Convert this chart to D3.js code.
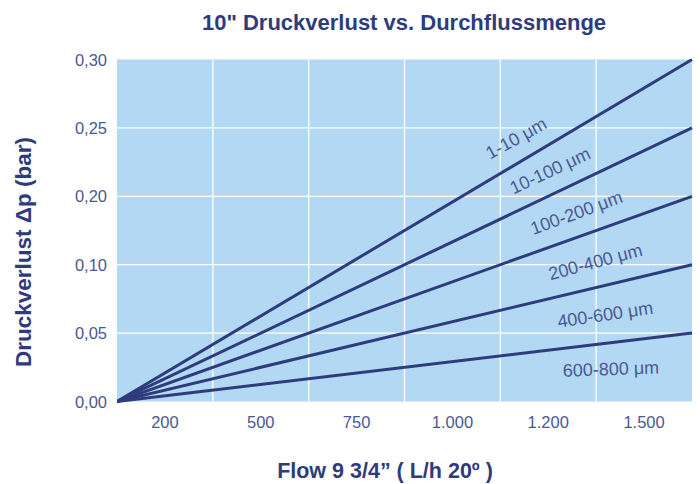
<!DOCTYPE html>
<html>
<head>
<meta charset="utf-8">
<script src="https://cdn.jsdelivr.net/npm/d3@7"></script>
<style>
  body { margin: 0; background: #fff; }
  svg { display: block; font-family: "Liberation Sans", Arial, sans-serif; }
</style>
</head>
<body>
<div id="chart"></div>
<script>
// data
var xLabels = ["200", "500", "750", "1.000", "1.200", "1.500"];
var yLabels = ["0,00", "0,05", "0,10", "0,20", "0,25", "0,30"];
var lineEnds = ["0,30", "0,25", "0,20", "0,10", "0,05"];   // value reached at right edge
var lineLabels = ["1-10 μm", "10-100 μm", "100-200 μm", "200-400 μm", "400-600 μm", "600-800 μm"];

var W = 700, H = 484;
var M = { left: 117, right: 8, top: 59.5, bottom: 82.5 };

var svg = d3.select("#chart").append("svg")
  .attr("width", W).attr("height", H);

var x = d3.scaleBand().domain(xLabels).range([M.left, W - M.right]);
var xf = d3.scaleLinear().domain([0, 1]).range(x.range());   // fraction along flow axis
var y = d3.scalePoint().domain(yLabels).range([H - M.bottom, M.top]);

var TEXT = "#4a5893", DARK = "#2e3b7c";

// plot background
svg.append("rect")
  .attr("x", x.range()[0]).attr("y", M.top)
  .attr("width", x.range()[1] - x.range()[0])
  .attr("height", y("0,00") - M.top)
  .attr("fill", "#b3d8f3");

// grid
svg.append("g").selectAll("line.v")
  .data(xLabels.slice(1))
  .enter().append("line")
  .attr("x1", function(d) { return x(d); }).attr("x2", function(d) { return x(d); })
  .attr("y1", M.top).attr("y2", y("0,00"))
  .attr("stroke", "#fff").attr("stroke-width", 1.3);

svg.append("g").selectAll("line.h")
  .data(yLabels.slice(1, -1))
  .enter().append("line")
  .attr("x1", x.range()[0]).attr("x2", x.range()[1])
  .attr("y1", function(d) { return y(d); }).attr("y2", function(d) { return y(d); })
  .attr("stroke", "#fff").attr("stroke-width", 1.3);

// tick labels
svg.append("g").selectAll("text")
  .data(xLabels)
  .enter().append("text")
  .attr("x", function(d) { return x(d) + x.bandwidth() / 2; })
  .attr("y", 428)
  .attr("text-anchor", "middle")
  .attr("font-size", 16.5)
  .attr("fill", TEXT)
  .text(function(d) { return d; });

svg.append("g").selectAll("text")
  .data(yLabels)
  .enter().append("text")
  .attr("x", 107)
  .attr("y", function(d) { return y(d) + 6; })
  .attr("text-anchor", "end")
  .attr("font-size", 16.5)
  .attr("fill", TEXT)
  .text(function(d) { return d; });

// lines
var clip = svg.append("clipPath").attr("id", "plot")
  .append("rect")
  .attr("x", x.range()[0]).attr("y", M.top - 1)
  .attr("width", x.range()[1] - x.range()[0] + 1)
  .attr("height", y("0,00") - M.top + 3);

var line = d3.line()
  .x(function(p) { return xf(p[0]); })
  .y(function(p) { return y(p[1]); });

svg.append("g").attr("clip-path", "url(#plot)")
  .selectAll("path")
  .data(lineEnds)
  .enter().append("path")
  .attr("d", function(d) { return line([[0, "0,00"], [1, d]]); })
  .attr("fill", "none")
  .attr("stroke", DARK)
  .attr("stroke-width", 3);

// line labels: fraction along x, vertical offset from reference line, angle
var labelPos = [
  { t: 0.694, ref: 0, dy: -26, a: -29 },
  { t: 0.753, ref: 1, dy: -25, a: -25 },
  { t: 0.799, ref: 2, dy: -25, a: -20 },
  { t: 0.832, ref: 3, dy: -26, a: -15 },
  { t: 0.849, ref: 4, dy: -29, a: -8.5 },
  { t: 0.859, ref: 4, dy: 26, a: -2 }
];

svg.append("g").selectAll("text")
  .data(lineLabels)
  .enter().append("text")
  .attr("transform", function(d, i) {
    var p = labelPos[i];
    var y0 = y("0,00"), y1 = y(lineEnds[p.ref]);
    var cx = xf(p.t), cy = y0 + (y1 - y0) * p.t + p.dy;
    return "translate(" + cx + "," + cy + ") rotate(" + p.a + ")";
  })
  .attr("text-anchor", "middle")
  .attr("dy", "0.35em")
  .attr("font-size", 18)
  .attr("fill", TEXT)
  .text(function(d) { return d; });

// titles
svg.append("text")
  .attr("x", 404).attr("y", 30)
  .attr("text-anchor", "middle")
  .attr("font-size", 22).attr("font-weight", "bold")
  .attr("fill", DARK)
  .text("10\" Druckverlust vs. Durchflussmenge");

svg.append("text")
  .attr("x", 385).attr("y", 478)
  .attr("text-anchor", "middle")
  .attr("font-size", 21.5).attr("font-weight", "bold")
  .attr("fill", DARK)
  .text("Flow 9 3/4” ( L/h 20º )");

svg.append("text")
  .attr("transform", "translate(31,252) rotate(-90)")
  .attr("text-anchor", "middle")
  .attr("font-size", 22.5).attr("font-weight", "bold")
  .attr("fill", DARK)
  .text("Druckverlust Δp (bar)");
</script>
</body>
</html>
